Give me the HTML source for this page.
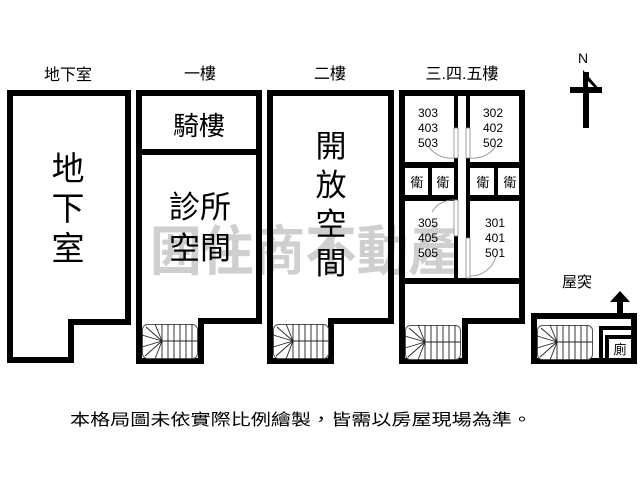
<!DOCTYPE html>
<html><head><meta charset="utf-8"><style>
html,body{margin:0;padding:0;background:#fff;}
svg{display:block;}
text{font-family:"Liberation Sans","Noto Sans CJK TC",sans-serif;fill:#000;}
</style></head><body>
<svg width="640" height="480" viewBox="0 0 640 480" xmlns="http://www.w3.org/2000/svg">
<defs>
<g id="st">
  <rect x="0.5" y="0.5" width="55" height="34" rx="5" fill="#fff" stroke="#555" stroke-width="1"/>
  <g stroke="#222" stroke-width="0.9">
    <line x1="20" y1="0" x2="20" y2="35"/><line x1="26" y1="0" x2="26" y2="35"/>
    <line x1="32" y1="0" x2="32" y2="35"/><line x1="38" y1="0" x2="38" y2="35"/>
    <line x1="44" y1="0" x2="44" y2="35"/><line x1="50" y1="0" x2="50" y2="35"/>
    <line x1="20" y1="17" x2="56" y2="17"/>
    <line x1="20" y1="17" x2="13" y2="0"/><line x1="20" y1="17" x2="4" y2="3"/>
    <line x1="20" y1="17" x2="0" y2="11"/><line x1="20" y1="17" x2="0" y2="23"/>
    <line x1="20" y1="17" x2="3" y2="32"/><line x1="20" y1="17" x2="13" y2="35"/>
  </g>
</g>
</defs>

<!-- watermark -->
<g fill="#d0d0d0" font-weight="bold">
  <text x="150" y="270" font-size="54" style="fill:#cfcfcf" textLength="310" lengthAdjust="spacingAndGlyphs">囲住商不動產</text>
</g>

<!-- top labels -->
<text x="68" y="80" font-size="16" text-anchor="middle">地下室</text>
<text x="200" y="79" font-size="16" text-anchor="middle">一樓</text>
<text x="330" y="79" font-size="16" text-anchor="middle">二樓</text>
<text x="462" y="79" font-size="16" text-anchor="middle">三.四.五樓</text>

<g fill="none" stroke="#000" stroke-width="6" stroke-linejoin="miter">
  <!-- basement -->
  <path d="M10 93 H128 V322 H71 V360 H10 Z"/>
  <!-- 1F -->
  <path d="M139 93 H259 V321 H201 V361 H139 Z"/>
  <line x1="139" y1="152" x2="259" y2="152"/>
  <!-- 2F -->
  <path d="M270 93 H391 V321 H331 V361 H270 Z"/>
  <!-- 3F -->
  <path d="M402 93 H522 V281 V321 H465 V361 H402 Z"/>
  <line x1="402" y1="281" x2="522" y2="281"/>
  <line x1="402" y1="165" x2="456" y2="165"/>
  <line x1="468" y1="165" x2="522" y2="165"/>
  <line x1="402" y1="198" x2="456" y2="198"/>
  <line x1="468" y1="198" x2="522" y2="198"/>
  <!-- roof -->
  <path d="M534 316 H634 V361 H534 Z"/>
</g>
<g stroke="#000" fill="none">
  <line x1="456" y1="93" x2="456" y2="281" stroke-width="4"/>
  <line x1="468" y1="93" x2="468" y2="281" stroke-width="4"/>
  <line x1="430" y1="165" x2="430" y2="198" stroke-width="4"/>
  <line x1="496" y1="165" x2="496" y2="198" stroke-width="4"/>
  <path d="M601 361 V328 H634" stroke-width="4"/>
  <path d="M607 361 V337 H634" stroke-width="4"/>
</g>
<!-- doors -->
<g stroke="#888" stroke-width="0.8" fill="#fff">
  <rect x="454" y="128" width="4" height="30"/>
  <rect x="466" y="128" width="4" height="30"/>
  <rect x="454" y="200" width="4" height="36"/>
  <rect x="466" y="238" width="4" height="40"/>
  <path d="M454 158 A28 28 0 0 1 428 146" fill="none"/>
  <path d="M470 158 A28 28 0 0 0 496 146" fill="none"/>
  <path d="M454 200 A24 24 0 0 0 432 212" fill="none"/>
  <path d="M470 276 A26 26 0 0 0 496 256" fill="none"/>
</g>

<!-- stairs -->
<use href="#st" x="142" y="324"/>
<use href="#st" x="273" y="324"/>
<use href="#st" x="405" y="325"/>
<use href="#st" x="537" y="325"/>

<!-- room labels -->
<text x="68" y="180" font-size="33" text-anchor="middle">地</text>
<text x="68" y="220" font-size="33" text-anchor="middle">下</text>
<text x="68" y="260" font-size="33" text-anchor="middle">室</text>
<text x="199" y="135" font-size="26" text-anchor="middle">騎樓</text>
<text x="200" y="218" font-size="31" text-anchor="middle">診所</text>
<text x="200" y="259" font-size="31" text-anchor="middle">空間</text>
<text x="331" y="157" font-size="31" text-anchor="middle">開</text>
<text x="331" y="196" font-size="31" text-anchor="middle">放</text>
<text x="331" y="235" font-size="31" text-anchor="middle">空</text>
<text x="331" y="274" font-size="31" text-anchor="middle">間</text>

<g font-size="12" text-anchor="middle">
  <text x="428" y="117">303</text><text x="428" y="132">403</text><text x="428" y="147">503</text>
  <text x="493" y="117">302</text><text x="493" y="132">402</text><text x="493" y="147">502</text>
  <text x="428" y="227">305</text><text x="428" y="242">405</text><text x="428" y="257">505</text>
  <text x="495" y="227">301</text><text x="495" y="242">401</text><text x="495" y="257">501</text>
</g>
<g font-size="13" text-anchor="middle">
  <text x="417" y="187">衛</text><text x="443" y="187">衛</text>
  <text x="483" y="187">衛</text><text x="510" y="187">衛</text>
  <text x="620" y="354">廁</text>
</g>
<text x="577" y="287" font-size="15" text-anchor="middle">屋突</text>

<!-- roof arrow -->
<polygon points="620,291 630,302 610,302" fill="#000"/>
<rect x="617" y="301" width="6" height="14" fill="#000"/>

<!-- north arrow -->
<text x="583" y="63" font-size="14" text-anchor="middle">N</text>
<rect x="583" y="72" width="6" height="56" fill="#000"/>
<rect x="570" y="87" width="32" height="6" fill="#000"/>
<polygon points="583,70 600,90 583,90" fill="#000"/>
<polygon points="588,81 594,87 588,87" fill="#fff"/>

<!-- footer -->
<text x="70" y="425" font-size="16" textLength="462" lengthAdjust="spacingAndGlyphs">本格局圖未依實際比例繪製，皆需以房屋現場為準。</text>
</svg>
</body></html>
